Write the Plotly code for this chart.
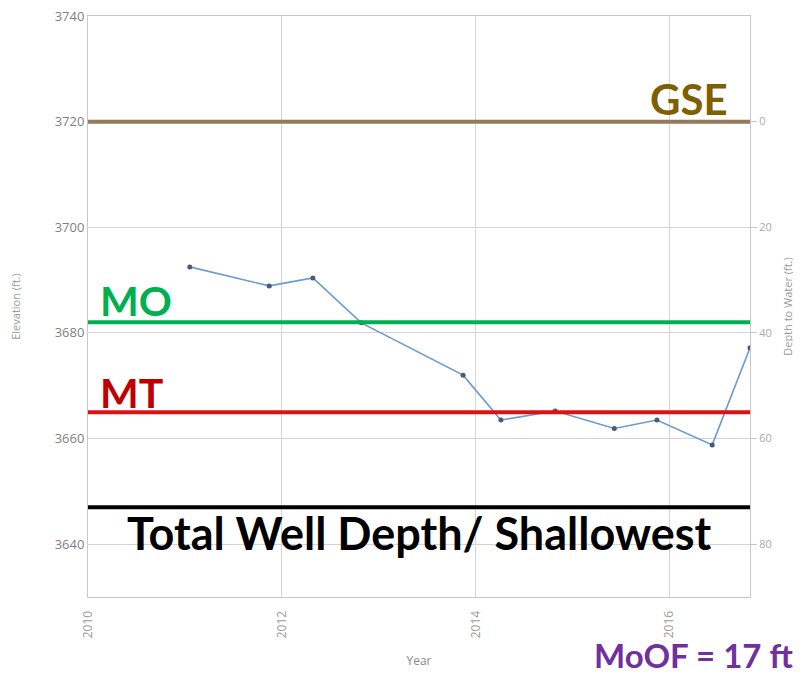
import plotly.graph_objects as go

# ---- data ----
years = [2011.05, 2011.87, 2012.32, 2012.82, 2013.87, 2014.26, 2014.82,
         2015.43, 2015.87, 2016.44, 2016.83]
elevation = [3692.5, 3688.9, 3690.4, 3681.9, 3672.0, 3663.5, 3665.2,
             3661.9, 3663.5, 3658.8, 3677.2]
ground_surface = 3720
level_names = ["GSE", "MO", "MT", "Total Well Depth/ Shallowest"]
level_values = [3720, 3682, 3665, 3647]
level_line_colors = ["#94795a", "#00b050", "#e01010", "#000000"]
level_text_colors = ["#7f6000", "#00b050", "#c00000", "#000000"]
x_ticks = [2010, 2012, 2014, 2016]
y_ticks = [3640, 3660, 3680, 3700, 3720, 3740]
depth_ticks = [0, 20, 40, 60, 80]
moof_text = "MoOF = 17 ft"

depth = [ground_surface - e for e in elevation]

fig = go.Figure()

fig.add_trace(go.Scatter(
    x=years, y=elevation, mode="lines+markers",
    line=dict(color="#6a9bd1", width=1.6),
    marker=dict(color="#4a5a78", size=5),
    showlegend=False, hoverinfo="x+y",
))
fig.add_trace(go.Scatter(
    x=years, y=depth, yaxis="y2", mode="lines",
    line=dict(color="rgba(0,0,0,0)", width=0),
    showlegend=False, hoverinfo="skip",
))

for val, col in zip(level_values, level_line_colors):
    fig.add_shape(type="line", xref="paper", x0=0, x1=1, yref="y", y0=val, y1=val,
                  line=dict(color=col, width=4), layer="above")

FONT = "Lato, 'Open Sans', sans-serif"
# labels (text placement in paper/pixel terms)
fig.add_annotation(x=0.9086, xref="paper", y=3724.3, yref="y", yanchor="middle",
                   xanchor="center", text="<b>GSE</b>", showarrow=False,
                   font=dict(family=FONT, size=42, color=level_text_colors[0]))
fig.add_annotation(x=0.015, xref="paper", y=3686.2, yref="y", yanchor="middle",
                   xanchor="left", text="<b>MO</b>", showarrow=False,
                   font=dict(family=FONT, size=41, color=level_text_colors[1]))
fig.add_annotation(x=0.015, xref="paper", y=3668.7, yref="y", yanchor="middle",
                   xanchor="left", text="<b>MT</b>", showarrow=False,
                   font=dict(family=FONT, size=41, color=level_text_colors[2]))
fig.add_annotation(x=0.5, xref="paper", y=3642.2, yref="y", yanchor="middle",
                   xanchor="center", text="<b>Total Well Depth/ Shallowest</b>", showarrow=False,
                   font=dict(family=FONT, size=45, color=level_text_colors[3]))
fig.add_annotation(x=1.068, xref="paper", y=-0.0991, yref="paper", yanchor="middle",
                   xanchor="right", text="<b>" + moof_text + "</b>", showarrow=False,
                   font=dict(family=FONT, size=33, color="#7030a0"))

fig.update_layout(
    width=793, height=668,
    margin=dict(l=80, r=51, t=8, b=79, autoexpand=False),
    paper_bgcolor="white", plot_bgcolor="white",
    font=dict(family="'Open Sans', sans-serif", color="#808080"),
    xaxis=dict(
        range=[2010, 2016.83], tickvals=x_ticks, ticktext=[str(t) for t in x_ticks],
        tickangle=-90, tickfont=dict(size=12, color="#9a9a9a"), automargin=False,
        ticklabelstandoff=8,
        showgrid=True, gridcolor="#d4d4d4", gridwidth=1,
        showline=True, linecolor="#c8c8c8", mirror=True, zeroline=False,
        title=dict(text="Year", font=dict(size=12, color="#8a8a8a"), standoff=19),
    ),
    yaxis=dict(
        range=[3630, 3740], tickvals=y_ticks, tickfont=dict(size=13, color="#7f7f7f"),
        ticklabeloverflow="allow",
        showgrid=True, gridcolor="#d4d4d4", gridwidth=1, automargin=False,
        showline=True, linecolor="#c8c8c8", mirror=True, zeroline=False,
        title=dict(text="Elevation (ft.)", font=dict(size=11, color="#9a9a9a"), standoff=40),
    ),
    yaxis2=dict(
        overlaying="y", side="right", range=[90, -20], tickvals=depth_ticks,
        tickfont=dict(size=11, color="#aaaaaa"), showgrid=False, zeroline=False,
        ticks="outside", ticklen=6, tickcolor="#c8c8c8", automargin=False,
        title=dict(text="Depth to Water (ft.)", font=dict(size=11, color="#9a9a9a"), standoff=13),
    ),
)

fig.write_html("out.html")
